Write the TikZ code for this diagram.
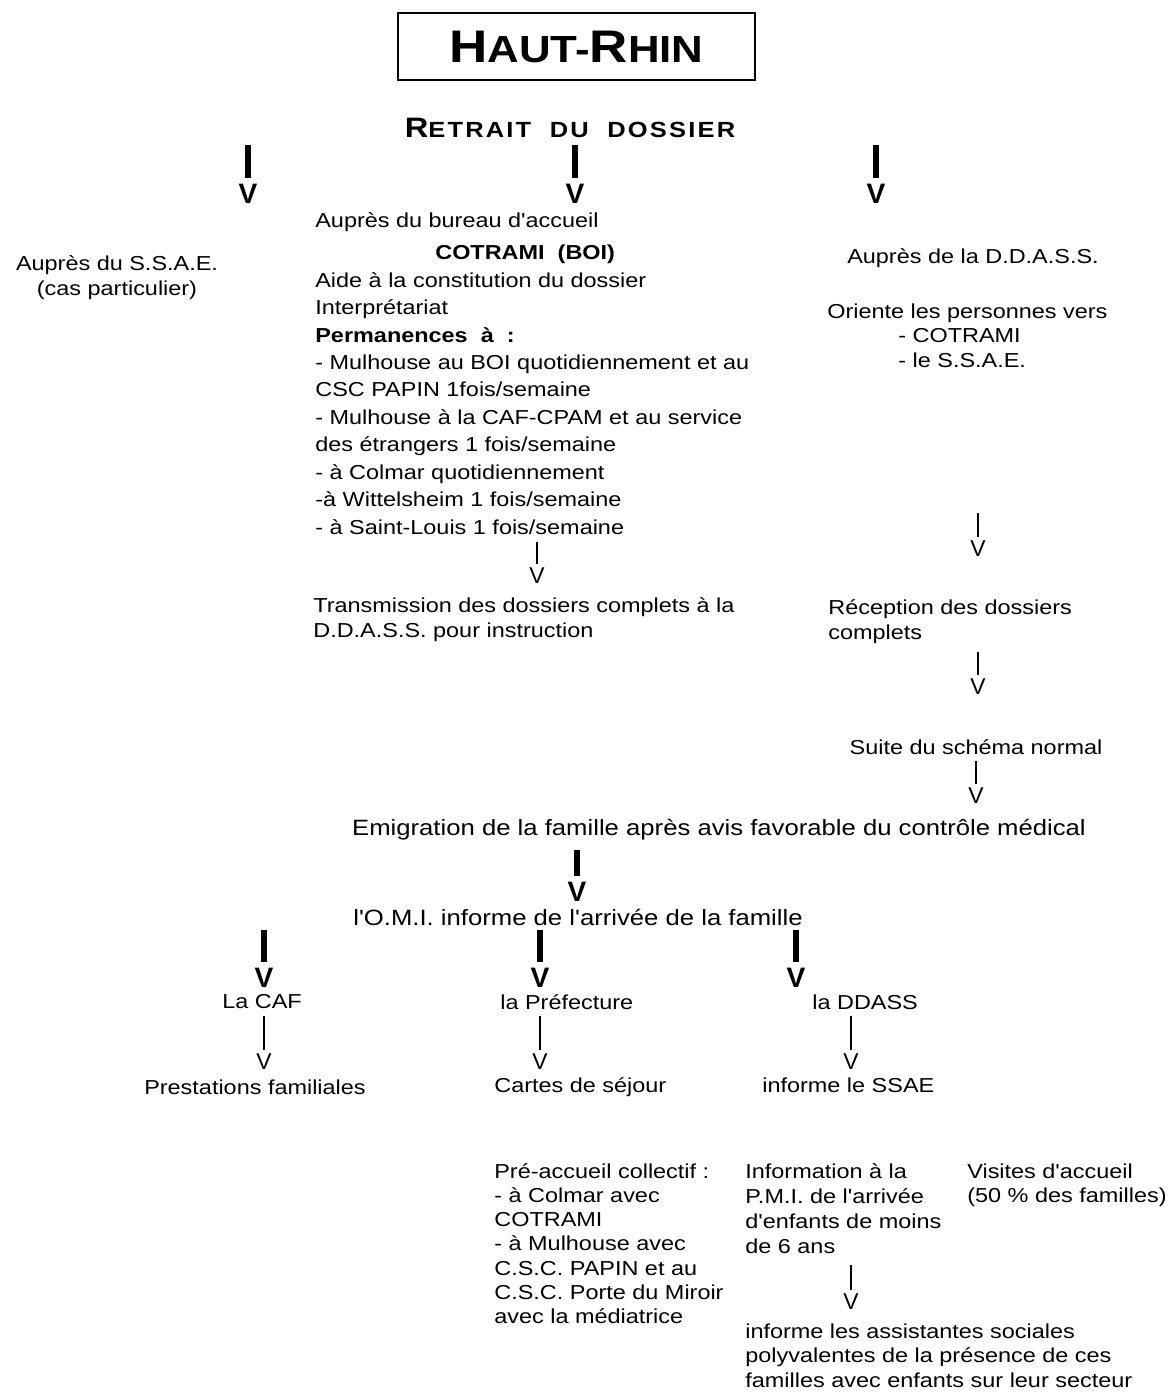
\documentclass[tikz,border=0pt]{standalone}
\usepackage{fontspec}
\setmainfont{Liberation Sans}[FakeStretch=1.16, Ligatures=TeXOff]
\newfontfamily\arrowfont{Liberation Sans}
\usetikzlibrary{positioning}
\newcommand{\petit}[1]{{\fontsize{21.5}{21.5}\selectfont #1}}
\tikzset{%
	txt/.style     = {inner sep=0pt, font=\fontsize{11.5}{14.2}\selectfont}, % plain line
	bloc/.style    = {txt, align=left, anchor=north west}, % block of lines
	bigtxt/.style  = {inner sep=0pt, font=\fontsize{12.6}{15}\selectfont},
	fatbar/.style  = {line width=3.6pt},
	thinbar/.style = {line width=1.5pt},
	fatv/.style    = {inner sep=0pt, anchor=north, yshift=-1.5pt, font=\arrowfont\bfseries\fontsize{16}{16}\selectfont},
	thinv/.style   = {inner sep=0pt, anchor=north, yshift=-1.5pt, font=\arrowfont\fontsize{13}{13}\selectfont},
}
\begin{document}
\begin{tikzpicture}[x=0.02cm, y=-0.02cm]
	\useasboundingbox (0,0) rectangle (1175,1394);

	% title and first split
	\node [draw, line width=1.6pt, minimum width=7.14cm, minimum height=1.34cm, inner sep=0pt,
		font=\bfseries\fontsize{26}{26}\selectfont] (titre) at (576.5,46.5) {H\petit{AUT-}R\petit{HIN}};
	\node [inner sep=0pt, font=\bfseries\addfontfeature{LetterSpace=10}\fontsize{12.5}{12.5}\selectfont]
		(retrait) at (570,128) {{\fontsize{16}{16}\selectfont R}ETRAIT\ \ DU\ \ DOSSIER};
	\coordinate (t1) at (248,145);
	\coordinate (t2) at (575,145);
	\coordinate (t3) at (876,145);
	\foreach \t in {t1,t2,t3}
		\draw[fatbar] (\t) -- ++(0,33) node[fatv] {V};

	% left column
	\node [txt, align=center] (ssae) at (117,278) {Auprès du S.S.A.E.\\(cas particulier)};

	% middle column
	\node [bloc, font=\fontsize{11.5}{15.6}\selectfont] (boi) at (315,212) {Auprès du bureau d'accueil\\[3pt]
		\hspace*{2.4cm}\textbf{COTRAMI~~(BOI)}\\
		Aide à la constitution du dossier\\
		Interprétariat\\
		\textbf{Permanences~~à~~:}\\
		- Mulhouse au BOI quotidiennement et au\\
		CSC PAPIN 1fois/semaine\\
		- Mulhouse à la CAF-CPAM et au service\\
		des étrangers 1 fois/semaine\\
		- à Colmar quotidiennement\\
		-à Wittelsheim 1 fois/semaine\\
		- à Saint-Louis 1 fois/semaine};
	\coordinate (m1) at (537,542);
	\draw[thinbar] (m1) -- ++(0,22) node[thinv] {V};
	\node [bloc] (transm) at (313,597) {Transmission des dossiers complets à la\\D.D.A.S.S. pour instruction};

	% right column
	\node [txt] (ddass) at (973,258) {Auprès de la D.D.A.S.S.};
	\node [bloc] (oriente) at (827,303) {Oriente les personnes vers\\
		\hspace*{1.42cm}- COTRAMI\\
		\hspace*{1.42cm}- le S.S.A.E.};
	\coordinate (r1) at (978,513);
	\draw[thinbar] (r1) -- ++(0,24) node[thinv] {V};
	\node [bloc] (recep) at (828,599) {Réception des dossiers\\complets};
	\coordinate (r2) at (978,652);
	\draw[thinbar] (r2) -- ++(0,23) node[thinv] {V};
	\node [txt] (suite) at (976,747) {Suite du schéma normal};
	\coordinate (r3) at (976,761);
	\draw[thinbar] (r3) -- ++(0,23) node[thinv] {V};

	% arrival
	\node [bigtxt] (emig) at (719,830) {Emigration de la famille après avis favorable du contrôle médical};
	\coordinate (e1) at (577,850);
	\draw[fatbar] (e1) -- ++(0,26) node[fatv] {V};
	\node [bigtxt] (omi) at (578,917) {l'O.M.I. informe de l'arrivée de la famille};
	\coordinate (o1) at (264,930);
	\coordinate (o2) at (540,930);
	\coordinate (o3) at (796,930);
	\foreach \o in {o1,o2,o3}
		\draw[fatbar] (\o) -- ++(0,32) node[fatv] {V};

	% three services
	\node [txt] (caf) at (262,1002) {La CAF};
	\node [txt, anchor=west] (pref) at (500,1002) {la Préfecture};
	\node [txt, anchor=west] (dd) at (812,1002) {la DDASS};
	\coordinate (c1) at (264,1016);
	\coordinate (c2) at (540,1016);
	\coordinate (c3) at (851,1016);
	\foreach \c in {c1,c2,c3}
		\draw[thinbar] (\c) -- ++(0,34) node[thinv] {V};
	\node [txt] (prest) at (255,1087) {Prestations familiales};
	\node [txt, anchor=west] (cartes) at (494,1087) {Cartes de séjour};
	\node [txt, anchor=west] (inf) at (762,1085) {informe le SSAE};

	% details
	\node [bloc, font=\fontsize{11.5}{13.8}\selectfont] (preacc) at (494,1163) {Pré-accueil collectif :\\
		- à Colmar avec\\
		COTRAMI\\
		- à Mulhouse avec\\
		C.S.C. PAPIN et au\\
		C.S.C. Porte du Miroir\\
		avec la médiatrice};
	\node [bloc] (pmi) at (745,1163) {Information à la\\P.M.I. de l'arrivée\\d'enfants de moins\\de 6 ans};
	\node [bloc] (visites) at (967,1163) {Visites d'accueil\\(50 \% des familles)};
	\coordinate (c4) at (851,1265);
	\draw[thinbar] (c4) -- ++(0,25) node[thinv] {V};
	\node [bloc] (assist) at (745,1323) {informe les assistantes sociales\\
		polyvalentes de la présence de ces\\
		familles avec enfants sur leur secteur};
\end{tikzpicture}
\end{document}
